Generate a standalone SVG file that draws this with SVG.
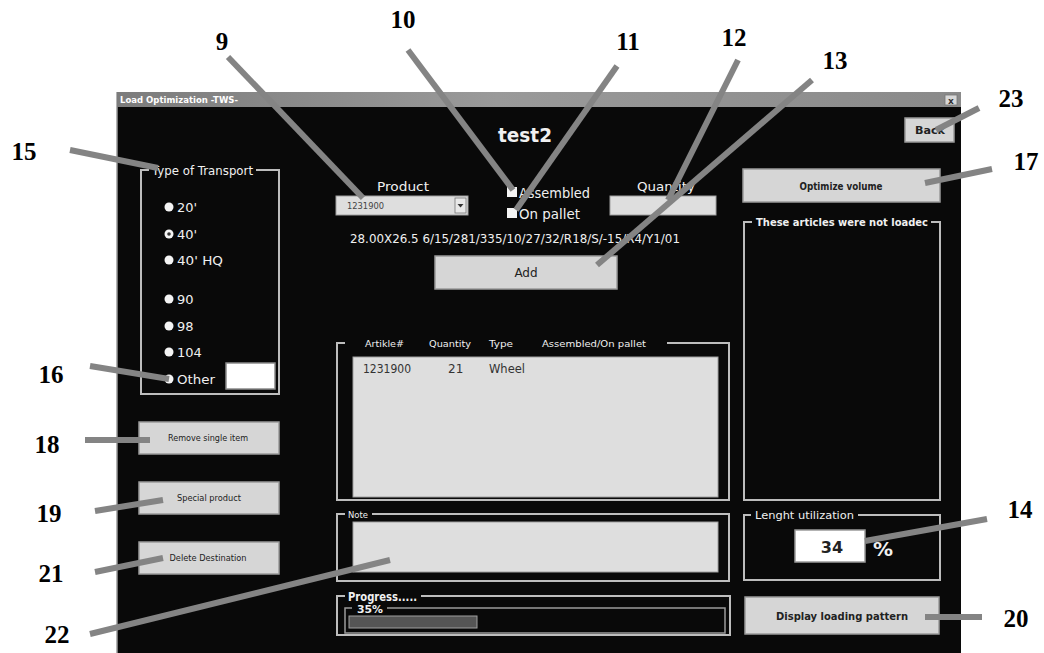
<svg xmlns="http://www.w3.org/2000/svg" width="1044" height="653" viewBox="0 0 1044 653">
  <style>
    .ui { font-family: "DejaVu Sans", "Liberation Sans", sans-serif; }
    .wt { fill: #f0f0f0; }
    .dk { fill: #222222; }
    .frame { fill: none; stroke: #bdbdbd; stroke-width: 2; }
    .btn { fill: #d6d6d6; stroke: #9a9a9a; stroke-width: 1.5; }
    .field { fill: #dedede; stroke: #a0a0a0; stroke-width: 1; }
    .radio { fill: #f4f4f4; }
    .num { font-family: "Liberation Serif", "Times New Roman", serif; font-weight: bold; font-size: 25px; fill: #000; text-anchor: middle; }
    .callout { stroke: #848484; stroke-width: 6; stroke-linecap: butt; fill: none; }
  </style>
  <defs>
    <linearGradient id="titleGrad" x1="0" y1="0" x2="1" y2="0">
      <stop offset="0" stop-color="#7c7c7c"/>
      <stop offset="0.45" stop-color="#9a9a9a"/>
      <stop offset="1" stop-color="#8a8a8a"/>
    </linearGradient>
  </defs>

  <rect x="0" y="0" width="1044" height="653" fill="#ffffff"/>

  <!-- application window -->
  <g id="window">
    <rect x="117" y="92" width="844" height="561" fill="#090909"/>
    <line x1="117" y1="92" x2="117" y2="653" stroke="#9a9a9a" stroke-width="1.5"/>
    <rect x="117" y="92" width="844" height="15" fill="url(#titleGrad)"/>
    <text class="ui" x="120" y="103" font-size="9" font-weight="bold" fill="#ffffff" textLength="118" lengthAdjust="spacingAndGlyphs">Load Optimization -TWS-</text>
    <rect x="945" y="95" width="12" height="10" fill="#d8d8d8" stroke="#777" stroke-width="0.8"/>
    <text class="ui" x="951" y="103.5" font-size="9" font-weight="bold" fill="#333" text-anchor="middle">x</text>
    <text class="ui wt" x="525" y="142" font-size="19" font-weight="bold" text-anchor="middle" textLength="54" lengthAdjust="spacingAndGlyphs">test2</text>
  </g>

  <g id="back-button">
    <rect class="btn" x="905" y="118" width="49" height="24"/>
    <text class="ui dk" x="930" y="134" font-size="10" font-weight="bold" text-anchor="middle" textLength="30" lengthAdjust="spacingAndGlyphs">Back</text>
  </g>

  <!-- transport type group -->
  <g id="transport-type">
    <path class="frame" d="M149,170 H141 V394 H279 V170 H256"/>
    <text class="ui wt" x="152" y="175" font-size="12" textLength="101" lengthAdjust="spacingAndGlyphs">Type of Transport</text>
    <circle class="radio" cx="169" cy="207" r="4.5"/>
    <text class="ui wt" x="177" y="212" font-size="13">20'</text>
    <circle class="radio" cx="169" cy="234" r="4.5"/>
    <circle cx="169" cy="234" r="1.8" fill="#333"/>
    <text class="ui wt" x="177" y="239" font-size="13">40'</text>
    <circle class="radio" cx="169" cy="260" r="4.5"/>
    <text class="ui wt" x="177" y="265" font-size="13" textLength="46" lengthAdjust="spacingAndGlyphs">40' HQ</text>
    <circle class="radio" cx="169" cy="299" r="4.5"/>
    <text class="ui wt" x="177" y="304" font-size="13">90</text>
    <circle class="radio" cx="169" cy="326" r="4.5"/>
    <text class="ui wt" x="177" y="331" font-size="13">98</text>
    <circle class="radio" cx="169" cy="352" r="4.5"/>
    <text class="ui wt" x="177" y="357" font-size="13">104</text>
    <circle class="radio" cx="169" cy="379" r="4.5"/>
    <text class="ui wt" x="177" y="384" font-size="13" textLength="38" lengthAdjust="spacingAndGlyphs">Other</text>
    <rect x="226" y="363" width="49" height="26" fill="#ffffff" stroke="#8a8a8a" stroke-width="1.5"/>
  </g>

  <!-- product selection -->
  <g id="product">
    <text class="ui wt" x="403" y="191" font-size="13" text-anchor="middle" textLength="52" lengthAdjust="spacingAndGlyphs">Product</text>
    <rect class="field" x="336" y="196" width="132" height="19"/>
    <text class="ui" x="347" y="209" font-size="8.5" fill="#444" textLength="37" lengthAdjust="spacingAndGlyphs">1231900</text>
    <rect x="455" y="198" width="11" height="15" fill="#e8e8e8" stroke="#777" stroke-width="0.8"/>
    <path d="M457.5,204 h6 l-3,3.5 z" fill="#333"/>
    <text class="ui wt" x="350" y="243" font-size="12.5" textLength="330" lengthAdjust="spacingAndGlyphs">28.00X26.5 6/15/281/335/10/27/32/R18/S/-15/R4/Y1/01</text>
  </g>

  <g id="assembled">
    <rect x="507" y="187" width="10" height="10" fill="#f4f4f4"/>
    <text class="ui wt" x="519" y="198" font-size="13.5" textLength="71" lengthAdjust="spacingAndGlyphs">Assembled</text>
  </g>

  <g id="on-pallet">
    <rect x="507" y="208" width="10" height="10" fill="#f4f4f4"/>
    <text class="ui wt" x="519" y="219" font-size="13.5" textLength="61" lengthAdjust="spacingAndGlyphs">On pallet</text>
  </g>

  <g id="quantity">
    <text class="ui wt" x="666" y="191" font-size="13" text-anchor="middle" textLength="58" lengthAdjust="spacingAndGlyphs">Quantity</text>
    <rect class="field" x="610" y="196" width="106" height="19"/>
  </g>

  <g id="add-button">
    <rect class="btn" x="435" y="256" width="182" height="33"/>
    <text class="ui dk" x="526" y="277" font-size="12" text-anchor="middle">Add</text>
  </g>

  <!-- article list -->
  <g id="article-list">
    <path class="frame" d="M345,343 H337 V500 H729 V343 H667"/>
    <text class="ui wt" x="365" y="347" font-size="9.5" textLength="39" lengthAdjust="spacingAndGlyphs">Artikle#</text>
    <text class="ui wt" x="429" y="347" font-size="9.5" textLength="42" lengthAdjust="spacingAndGlyphs">Quantity</text>
    <text class="ui wt" x="489" y="347" font-size="9.5" textLength="24" lengthAdjust="spacingAndGlyphs">Type</text>
    <text class="ui wt" x="542" y="347" font-size="9.5" textLength="104" lengthAdjust="spacingAndGlyphs">Assembled/On pallet</text>
    <rect class="field" x="353" y="357" width="365" height="140"/>
    <text class="ui" x="363" y="373" font-size="12" fill="#333" textLength="48" lengthAdjust="spacingAndGlyphs">1231900</text>
    <text class="ui" x="448" y="373" font-size="12" fill="#333">21</text>
    <text class="ui" x="489" y="373" font-size="12" fill="#333" textLength="36" lengthAdjust="spacingAndGlyphs">Wheel</text>
  </g>

  <g id="note">
    <path class="frame" d="M345,514 H337 V581 H729 V514 H372"/>
    <text class="ui wt" x="348" y="518" font-size="8" textLength="20" lengthAdjust="spacingAndGlyphs">Note</text>
    <rect class="field" x="353" y="522" width="365" height="50"/>
  </g>

  <g id="progress">
    <path class="frame" d="M345,596 H337 V635 H730 V596 H421"/>
    <text class="ui wt" x="348" y="601" font-size="12" font-weight="bold" textLength="69" lengthAdjust="spacingAndGlyphs">Progress.....</text>
    <path d="M352,608 H345 V633 H725 V608 H387" fill="none" stroke="#9a9a9a" stroke-width="1.5"/>
    <text class="ui wt" x="357" y="613" font-size="10.5" font-weight="bold" textLength="26" lengthAdjust="spacingAndGlyphs">35%</text>
    <rect x="349" y="616" width="128" height="12" fill="#555555" stroke="#a0a0a0" stroke-width="1"/>
  </g>

  <!-- left side buttons -->
  <g id="remove-single-item">
    <rect class="btn" x="139" y="422" width="140" height="32"/>
    <text class="ui dk" x="208" y="441" font-size="9.5" text-anchor="middle" textLength="80" lengthAdjust="spacingAndGlyphs">Remove single item</text>
  </g>
  <g id="special-product">
    <rect class="btn" x="139" y="482" width="140" height="32"/>
    <text class="ui dk" x="209" y="501" font-size="9.5" text-anchor="middle" textLength="64" lengthAdjust="spacingAndGlyphs">Special product</text>
  </g>
  <g id="delete-destination">
    <rect class="btn" x="139" y="542" width="140" height="32"/>
    <text class="ui dk" x="208" y="561" font-size="9.5" text-anchor="middle" textLength="77" lengthAdjust="spacingAndGlyphs">Delete Destination</text>
  </g>

  <!-- right side -->
  <g id="optimize-volume">
    <rect class="btn" x="743" y="169" width="197" height="33"/>
    <text class="ui dk" x="841" y="190" font-size="10" font-weight="bold" text-anchor="middle" textLength="83" lengthAdjust="spacingAndGlyphs">Optimize volume</text>
  </g>

  <g id="not-loaded">
    <path class="frame" d="M752,222 H744 V500 H940 V222 H931"/>
    <text class="ui wt" x="756" y="226" font-size="11" font-weight="bold" textLength="172" lengthAdjust="spacingAndGlyphs">These articles were not loadec</text>
  </g>

  <g id="length-utilization">
    <path class="frame" d="M751,515 H744 V580 H940 V515 H858"/>
    <text class="ui wt" x="755" y="519" font-size="11" textLength="99" lengthAdjust="spacingAndGlyphs">Lenght utilization</text>
    <rect x="795" y="530" width="70" height="32" fill="#ffffff" stroke="#9a9a9a" stroke-width="1.5"/>
    <text class="ui dk" x="832" y="553" font-size="16" font-weight="bold" text-anchor="middle">34</text>
    <text class="ui wt" x="873" y="556" font-size="20" font-weight="bold">%</text>
  </g>

  <g id="display-loading-pattern">
    <rect class="btn" x="745" y="597" width="194" height="37"/>
    <text class="ui dk" x="842" y="620" font-size="10.5" font-weight="bold" text-anchor="middle" textLength="132" lengthAdjust="spacingAndGlyphs">Display loading pattern</text>
  </g>

  <!-- callout leader lines -->
  <g id="connectors">
    <line class="callout" x1="228" y1="57" x2="363" y2="198"/>
    <line class="callout" x1="408" y1="50" x2="513" y2="190"/>
    <line class="callout" x1="617" y1="66" x2="516" y2="210"/>
    <line class="callout" x1="738" y1="60" x2="668" y2="200"/>
    <line class="callout" x1="812" y1="80" x2="597" y2="265"/>
    <line class="callout" x1="979" y1="108" x2="936" y2="130"/>
    <line class="callout" x1="70" y1="150" x2="158" y2="168"/>
    <line class="callout" x1="992" y1="169" x2="925" y2="183"/>
    <line class="callout" x1="90" y1="366" x2="169" y2="379"/>
    <line class="callout" x1="85" y1="440" x2="150" y2="440"/>
    <line class="callout" x1="95" y1="511" x2="163" y2="500"/>
    <line class="callout" x1="95" y1="572" x2="163" y2="558"/>
    <line class="callout" x1="90" y1="634" x2="390" y2="560"/>
    <line class="callout" x1="987" y1="519" x2="865" y2="541"/>
    <line class="callout" x1="982" y1="617" x2="925" y2="617"/>
  </g>

  <!-- callout numbers -->
  <g id="labels">
    <text class="num" x="222" y="50">9</text>
    <text class="num" x="403" y="28">10</text>
    <text class="num" x="628" y="50">11</text>
    <text class="num" x="734" y="46">12</text>
    <text class="num" x="835" y="69">13</text>
    <text class="num" x="1011" y="107">23</text>
    <text class="num" x="24" y="160">15</text>
    <text class="num" x="1026" y="170">17</text>
    <text class="num" x="51" y="383">16</text>
    <text class="num" x="47" y="453">18</text>
    <text class="num" x="49" y="522">19</text>
    <text class="num" x="51" y="582">21</text>
    <text class="num" x="57" y="643">22</text>
    <text class="num" x="1020" y="518">14</text>
    <text class="num" x="1016" y="627">20</text>
  </g>
</svg>
